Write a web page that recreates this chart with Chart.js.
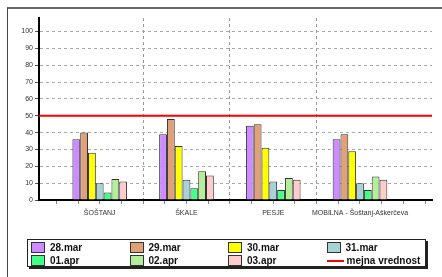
<!DOCTYPE html>
<html>
<head>
<meta charset="utf-8">
<script src="https://cdn.jsdelivr.net/npm/chart.js@4/dist/chart.umd.min.js"></script>
<style>
    html, body { margin: 0; padding: 0; background: #fff; overflow: hidden; }
    #wrap { position: relative; width: 442px; height: 277px; }
    #frame { position: absolute; left: 7px; top: 7px; width: 480px; height: 320px; border: 1px solid #444; border-top: 2px solid #666; }
    #chart { position: absolute; left: 0; top: 0; }
    #legend {
        position: absolute; left: 27px; top: 239px; width: 394px; height: 25px;
        border: 1px solid #222; box-shadow: 2px 2px 0 #222; background: #fff;
        display: grid; grid-template-columns: 98.5px 98.5px 98.5px 98.5px; grid-template-rows: 13px 13px;
        padding: 1px 0 0 3px; box-sizing: content-box;
        font: bold 10px "Liberation Sans", Arial, sans-serif; color: #111;
    }
    .item { display: flex; align-items: center; white-space: nowrap; }
    .sw { width: 12px; height: 9px; border: 1px solid #333; margin-right: 5px; }
    .ln { width: 17px; height: 2px; margin-right: 3px; }
</style>
</head>
<body>
<div id="wrap">
    <div id="frame"></div>
    <canvas id="chart" width="442" height="277"></canvas>
    <div id="legend"></div>
</div>
<script>
const categories = ['ŠOŠTANJ', 'ŠKALE', 'PESJE', 'MOBILNA - Šoštanj-Aškerčeva'];
const dayLabels = ['28.mar', '29.mar', '30.mar', '31.mar', '01.apr', '02.apr', '03.apr'];
const mar28 = [36, 39, 44, 36];
const mar29 = [40, 48, 45, 39];
const mar30 = [28, 32, 31, 29];
const mar31 = [10, 12, 11, 10];
const apr01 = [4.5, 7, 6, 6];
const apr02 = [12.5, 17, 13, 14];
const apr03 = [11, 14.5, 12, 12];
const limitLabel = 'mejna vrednost';
const limitValue = 50;
const yTicks = [0, 10, 20, 30, 40, 50, 60, 70, 80, 90, 100];

const dayColors = ['#cc8cff', '#e0a078', '#ffff00', '#a8d2d8', '#44ff88', '#b4ee98', '#ffcccc'];
const X_MIN = -0.7;
const X_MAX = 3.83;

document.addEventListener('DOMContentLoaded', function () {
    const series = [mar28, mar29, mar30, mar31, apr01, apr02, apr03];

    // the bar ruler measures against the quarter ticks, so group share is scaled by 4
    const datasets = series.map((values, d) => ({
        type: 'bar',
        label: dayLabels[d],
        data: values.map((v, i) => ({ x: i, y: v })),
        backgroundColor: dayColors[d],
        borderColor: '#333',
        borderWidth: 1,
        categoryPercentage: 0.63 * 4,
        barPercentage: 1.0
    }));

    datasets.push({
        type: 'line',
        label: limitLabel,
        data: [{ x: X_MIN, y: limitValue }, { x: X_MAX, y: limitValue }],
        borderColor: '#ff0000',
        borderWidth: 2,
        pointRadius: 0
    });

    const ctx = document.getElementById('chart');
    const chart = new Chart(ctx, {
        data: { datasets: datasets },
        options: {
            responsive: false,
            animation: false,
            layout: { padding: { top: 18, right: 10, bottom: 52, left: 0 } },
            plugins: {
                legend: { display: false },
                tooltip: { enabled: false }
            },
            scales: {
                x: {
                    type: 'linear',
                    min: X_MIN,
                    max: X_MAX,
                    offset: false,
                    afterBuildTicks: function (scale) {
                        const t = [];
                        for (let k = -2; k <= 15; k++) t.push({ value: k / 4 });
                        scale.ticks = t;
                    },
                    afterFit: function (scale) { scale.height = 25; },
                    border: { color: '#000', width: 2, dash: [3, 3] },
                    grid: {
                        offset: false,
                        color: function (c) {
                            const v = c.tick ? c.tick.value : 0;
                            return (Math.abs(v % 1) === 0.5 && v > 0 && v < 3) ? '#999' : 'rgba(0,0,0,0)';
                        },
                        tickColor: '#888',
                        tickLength: 4
                    },
                    ticks: {
                        autoSkip: false,
                        maxRotation: 0,
                        padding: 5,
                        color: '#333',
                        font: { family: '"Liberation Sans", Arial, sans-serif', size: 7 },
                        callback: function (value) {
                            return Number.isInteger(value) ? categories[value] : '';
                        }
                    }
                },
                y: {
                    min: 0,
                    max: 108,
                    afterFit: function (scale) { scale.width = 39; },
                    border: { color: '#000', width: 2, dash: [3, 3] },
                    grid: {
                        color: function (c) {
                            const v = c.tick ? c.tick.value : 0;
                            return (v > 0 && yTicks.includes(v)) ? '#aaa' : 'rgba(0,0,0,0)';
                        },
                        tickColor: '#555',
                        tickLength: 4
                    },
                    ticks: {
                        stepSize: 5,
                        includeBounds: false,
                        padding: 2,
                        color: '#333',
                        font: { family: '"Liberation Sans", Arial, sans-serif', size: 7 },
                        callback: function (value) {
                            return yTicks.includes(value) ? String(value) : '';
                        }
                    }
                }
            }
        }
    });

    // html legend built from the chart datasets
    const legend = document.getElementById('legend');
    chart.data.datasets.forEach(ds => {
        const item = document.createElement('div');
        item.className = 'item';
        const mark = document.createElement('span');
        if (ds.type === 'line') {
            mark.className = 'ln';
            mark.style.background = ds.borderColor;
        } else {
            mark.className = 'sw';
            mark.style.background = ds.backgroundColor;
        }
        const text = document.createElement('span');
        text.textContent = ds.label;
        item.appendChild(mark);
        item.appendChild(text);
        legend.appendChild(item);
    });
});
</script>
</body>
</html>
